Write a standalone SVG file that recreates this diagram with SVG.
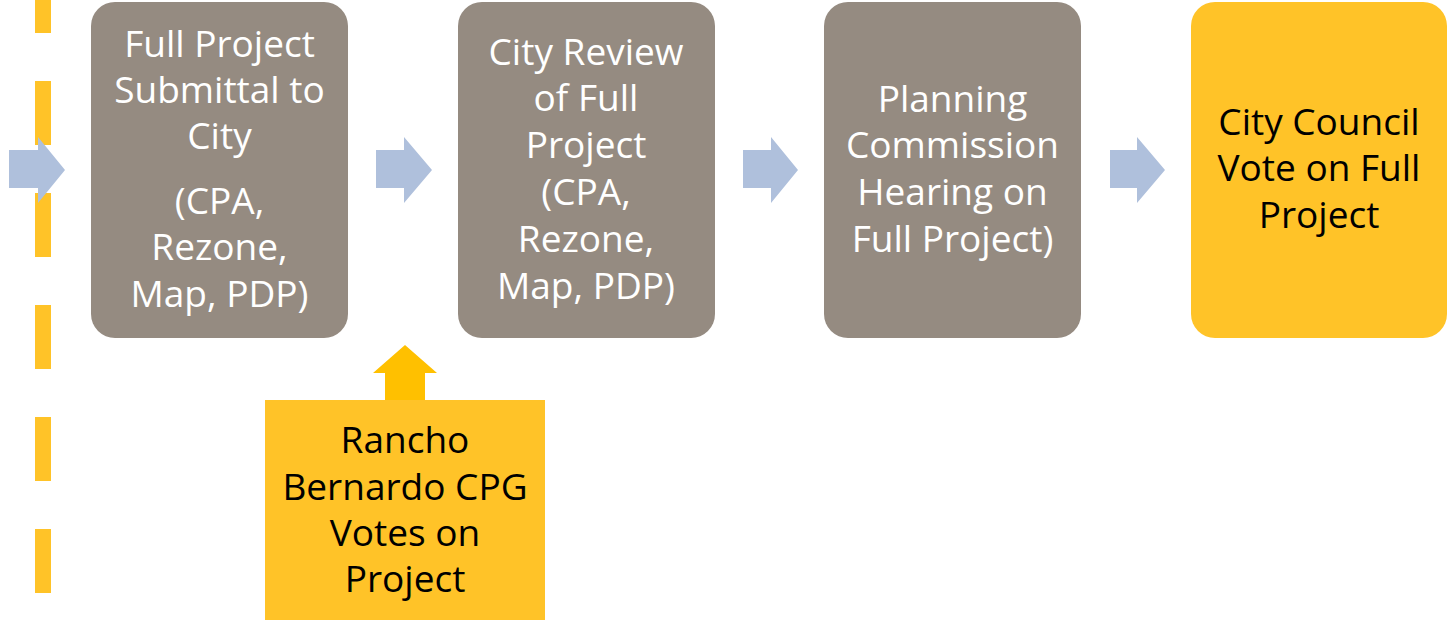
<svg xmlns="http://www.w3.org/2000/svg" width="1448" height="620" viewBox="0 0 1448 620">
<style>
.grey{fill:#958B81}
.yel{fill:#FFC328}
.arr{fill:#AFC0DC}
.up{fill:#FFC000}
text{font-family:"Open Sans","Noto Sans","DejaVu Sans",sans-serif;font-size:37px;text-anchor:middle}
.w{fill:#FFFFFF}
.b{fill:#000000}
</style>
<rect width="1448" height="620" fill="#FFFFFF"/>
<line x1="43" y1="-31" x2="43" y2="620" stroke="#FFC328" stroke-width="16" stroke-dasharray="64 48"/>
<g id="connectors">
<path class="arr" d="M9,150 H38 V137 L65,170 L38,203 V188 H9 Z"/>
<path class="arr" d="M376,150 H404 V137 L432,170 L404,203 V188 H376 Z"/>
<path class="arr" d="M743,150 H771 V137 L798,170 L771,203 V188 H743 Z"/>
<path class="arr" d="M1110,150 H1137 V137 L1165,170 L1137,203 V188 H1110 Z"/>
<path class="up" d="M385,400 V373 H373 L405,345 L437,373 H425 V400 Z"/>
</g>
<g id="node1">
<rect class="grey" x="91" y="2" width="257" height="336" rx="24"/>
<text class="w" x="219.5" y="57">Full Project</text>
<text class="w" x="219.5" y="103">Submittal to</text>
<text class="w" x="219.5" y="149">City</text>
<text class="w" x="219.5" y="214">(CPA,</text>
<text class="w" x="219.5" y="260">Rezone,</text>
<text class="w" x="219.5" y="307">Map, PDP)</text>
</g>
<g id="node2">
<rect class="grey" x="458" y="2" width="257" height="336" rx="24"/>
<text class="w" x="586" y="65">City Review</text>
<text class="w" x="586" y="111">of Full</text>
<text class="w" x="586" y="158">Project</text>
<text class="w" x="586" y="205">(CPA,</text>
<text class="w" x="586" y="252">Rezone,</text>
<text class="w" x="586" y="299">Map, PDP)</text>
</g>
<g id="node3">
<rect class="grey" x="824" y="2" width="257" height="336" rx="24"/>
<text class="w" x="952.5" y="112">Planning</text>
<text class="w" x="952.5" y="158">Commission</text>
<text class="w" x="952.5" y="205">Hearing on</text>
<text class="w" x="952.5" y="252">Full Project)</text>
</g>
<g id="node4">
<rect class="yel" x="1191" y="2" width="256" height="336" rx="24"/>
<text class="b" x="1319" y="135">City Council</text>
<text class="b" x="1319" y="181">Vote on Full</text>
<text class="b" x="1319" y="228">Project</text>
</g>
<g id="node5">
<rect class="yel" x="265" y="400" width="280" height="220"/>
<text class="b" x="405" y="453">Rancho</text>
<text class="b" x="405" y="500">Bernardo CPG</text>
<text class="b" x="405" y="546">Votes on</text>
<text class="b" x="405" y="592">Project</text>
</g>
</svg>
